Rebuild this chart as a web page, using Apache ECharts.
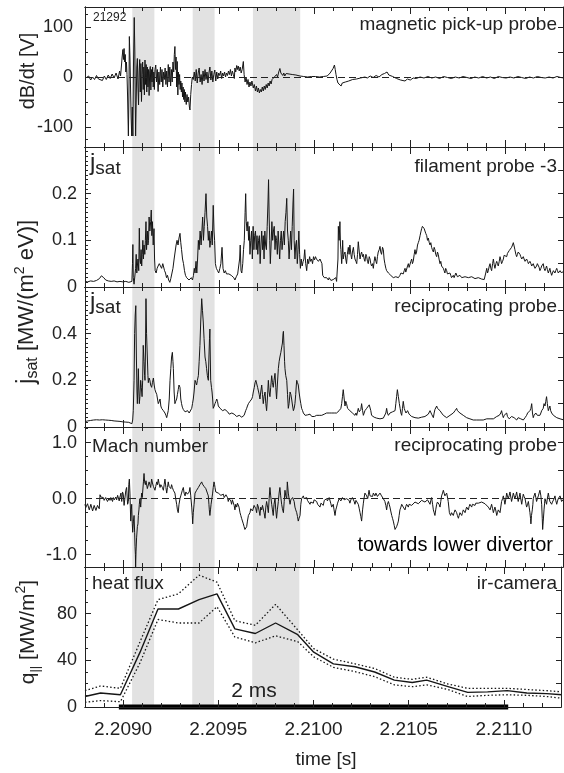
<!DOCTYPE html>
<html><head><meta charset="utf-8">
<script src="https://cdn.jsdelivr.net/npm/echarts@6/dist/echarts.min.js"></script>
<style>html,body{margin:0;padding:0;background:#fff}#c{width:564px;height:773px}</style>
</head><body><div id="c"></div>
<script>
// Sample times are offsets; READ_T0 + offset * READ_UNIT gives seconds.
const READ_T0 = 2.2089778;
const READ_UNIT = 1.0225e-6;
const X_MIN = 2.2088, X_MAX = 2.2113, X_MINOR_STEP = 0.0001;
const xMajorTicks = [2.2090, 2.2095, 2.2100, 2.2105, 2.2110];
const shadedBands = [[68, 181], [377, 489], [685, 927]];
const scaleBar = [0, 2000];

const magneticProbe = [[-174,-3],[-165,-7],[-155,2],[-145,-6],[-135,0],[-125,-5],[-115,3],[-105,-4],[-95,-1],[-85,-7],[-75,2],[-65,-5],[-55,4],[-45,-3],[-35,6],[-25,-2],[-15,8],[-5,-4],[3,12],[8,2],[12,20],[16,40],[20,55],[23,35],[26,57],[29,30],[32,45],[35,10],[38,30],[41,5],[44,-40],[48,-118],[51,-30],[53,81],[56,40],[59,-20],[62,-80],[65,-118],[68,-60],[71,-118],[74,20],[78,119],[81,50],[83,-40],[85,-118],[88,-50],[91,20],[94,37],[97,-20],[100,-56],[103,10],[106,35],[109,-30],[112,27],[115,-49],[118,5],[121,30],[124,-25],[127,20],[130,-36],[133,34],[136,-15],[139,25],[142,-30],[145,20],[148,-20],[151,15],[154,-37],[157,10],[160,21],[163,-26],[166,15],[169,-10],[172,20],[175,-20],[178,10],[181,-25],[184,15],[188,24],[192,-10],[196,15],[200,-29],[204,10],[208,-15],[212,20],[216,-10],[220,15],[224,-20],[228,10],[232,-5],[236,18],[240,-15],[244,12],[248,-20],[252,25],[256,-10],[260,20],[264,-18],[268,15],[272,-10],[276,30],[280,10],[283,45],[286,61],[289,15],[292,40],[295,-20],[298,31],[301,-36],[304,10],[307,-15],[310,5],[313,-25],[316,-8],[319,-30],[322,-12],[325,-40],[328,-20],[331,-45],[334,-25],[337,-50],[340,-30],[344,-55],[348,-35],[352,-50],[356,-40],[360,-60],[363,-66],[367,-35],[371,-15],[375,0],[380,-5],[385,10],[390,-8],[395,15],[400,-12],[405,8],[410,18],[415,-10],[420,5],[425,-15],[430,12],[435,-8],[440,15],[445,-5],[450,10],[455,-12],[460,8],[465,20],[470,-6],[475,12],[480,-10],[485,5],[490,14],[495,-8],[500,10],[505,-4],[510,8],[515,3],[520,12],[525,-3],[530,8],[535,2],[540,10],[545,0],[550,8],[555,3],[560,12],[565,5],[570,15],[575,2],[580,12],[585,5],[590,-3],[593,18],[597,10],[602,23],[606,15],[610,22],[615,12],[620,20],[625,8],[630,15],[636,31],[640,5],[645,-10],[650,0],[655,-15],[660,-5],[665,-20],[670,-10],[675,-18],[680,-8],[687,-22],[692,-15],[698,-28],[703,-18],[708,-30],[713,-22],[718,-32],[723,-25],[728,-30],[733,-20],[738,-28],[743,-18],[748,-25],[753,-15],[758,-22],[763,-12],[768,-18],[773,-8],[778,-14],[783,-5],[789,-8],[795,0],[800,-4],[806,5],[811,0],[817,10],[823,17],[828,8],[833,12],[838,3],[843,8],[848,2],[855,7],[862,3],[870,6],[878,2],[886,5],[895,1],[905,4],[915,0],[926,2],[935,-2],[945,1],[955,-2],[965,0],[975,-2],[985,1],[995,-1],[1005,1],[1015,-2],[1025,0],[1035,-1],[1045,1],[1055,0],[1065,2],[1072,4],[1080,8],[1088,12],[1095,17],[1102,24],[1106,15],[1110,5],[1115,-5],[1120,-12],[1126,-16],[1130,-14],[1136,-18],[1142,-12],[1150,-15],[1158,-10],[1166,-12],[1175,-8],[1185,-10],[1195,-5],[1205,-8],[1215,-4],[1225,-6],[1235,-2],[1245,-4],[1258,0],[1270,-2],[1285,2],[1300,-1],[1315,3],[1330,0],[1345,5],[1358,7],[1371,10],[1380,4],[1390,6],[1400,1],[1410,2],[1420,-3],[1430,-2],[1440,-6],[1450,-5],[1463,-8],[1475,-4],[1490,-6],[1505,-2],[1520,-3],[1540,0],[1560,-2],[1580,1],[1600,-2],[1620,0],[1640,-3],[1660,1],[1680,-1],[1700,-3],[1720,0],[1740,-2],[1760,1],[1780,-1],[1800,-3],[1820,0],[1840,-2],[1860,1],[1880,-2],[1900,0],[1920,-3],[1940,1],[1960,-1],[1980,-2],[2000,0],[2020,-2],[2040,1],[2060,-1],[2080,-3],[2100,0],[2120,-2],[2140,1],[2160,-1],[2180,-2],[2200,0],[2220,-2],[2240,1],[2260,-1],[2276,-2]];

const filamentProbe = [[-174,0.012],[-160,0.011],[-145,0.013],[-130,0.012],[-115,0.014],[-100,0.018],[-90,0.024],[-85,0.027],[-78,0.02],[-68,0.015],[-55,0.013],[-40,0.012],[-25,0.013],[-10,0.011],[5,0.012],[20,0.011],[35,0.012],[50,0.01],[60,0.011],[66,0.012],[69,0.05],[71,0.091],[73,0.02],[77,0.006],[81,0.003],[85,0.04],[88,0.07],[91,0.03],[94,0.045],[97,0.06],[101,0.035],[104,0.126],[107,0.06],[110,0.05],[113,0.08],[116,0.045],[119,0.07],[122,0.1],[125,0.06],[128,0.09],[132,0.07],[135,0.1],[138,0.14],[141,0.08],[145,0.12],[148,0.09],[151,0.1],[154,0.15],[158,0.12],[162,0.14],[165,0.165],[168,0.11],[171,0.14],[175,0.09],[179,0.125],[182,0.06],[185,0.035],[190,0.03],[195,0.04],[200,0.045],[206,0.05],[212,0.045],[218,0.04],[224,0.05],[228,0.052],[233,0.035],[238,0.03],[243,0.02],[248,0.025],[254,0.015],[260,0.01],[265,0.018],[270,0.02],[276,0.04],[282,0.06],[287,0.075],[292,0.09],[297,0.1],[302,0.09],[307,0.105],[312,0.115],[316,0.095],[320,0.08],[325,0.06],[330,0.05],[335,0.035],[340,0.025],[346,0.02],[352,0.018],[358,0.015],[364,0.012],[370,0.02],[376,0.015],[381,0.025],[385,0.04],[389,0.03],[394,0.055],[398,0.03],[402,0.06],[406,0.1],[410,0.08],[415,0.12],[420,0.09],[424,0.12],[428,0.15],[432,0.1],[436,0.13],[440,0.16],[445,0.2],[449,0.15],[453,0.13],[457,0.1],[461,0.12],[465,0.085],[469,0.1],[473,0.12],[477,0.09],[482,0.175],[486,0.12],[489,0.1],[493,0.05],[498,0.04],[504,0.035],[510,0.03],[516,0.04],[521,0.05],[527,0.085],[532,0.04],[538,0.03],[544,0.035],[550,0.028],[556,0.032],[562,0.028],[568,0.03],[574,0.025],[580,0.022],[587,0.02],[593,0.015],[600,0.022],[607,0.028],[613,0.03],[617,0.06],[620,0.09],[624,0.035],[628,0.03],[633,0.05],[637,0.08],[641,0.1],[645,0.16],[648,0.2],[651,0.14],[655,0.12],[659,0.14],[663,0.1],[666,0.13],[670,0.07],[674,0.1],[678,0.12],[682,0.06],[686,0.13],[690,0.08],[694,0.11],[698,0.12],[702,0.08],[706,0.11],[710,0.07],[714,0.1],[718,0.11],[722,0.05],[726,0.09],[730,0.12],[734,0.08],[738,0.11],[742,0.06],[746,0.12],[750,0.09],[754,0.08],[758,0.13],[762,0.18],[765,0.23],[768,0.15],[771,0.1],[774,0.05],[778,0.09],[782,0.14],[786,0.1],[790,0.12],[794,0.13],[798,0.08],[802,0.11],[806,0.1],[810,0.07],[814,0.12],[818,0.09],[822,0.06],[826,0.1],[830,0.12],[834,0.08],[838,0.1],[842,0.12],[846,0.09],[850,0.14],[854,0.16],[858,0.19],[862,0.12],[866,0.1],[870,0.06],[874,0.09],[878,0.12],[882,0.08],[886,0.13],[890,0.18],[893,0.21],[896,0.1],[900,0.06],[904,0.09],[908,0.1],[912,0.05],[916,0.08],[920,0.12],[924,0.07],[928,0.04],[932,0.06],[937,0.045],[942,0.055],[946,0.06],[950,0.08],[955,0.05],[960,0.035],[965,0.06],[970,0.05],[975,0.065],[980,0.055],[985,0.06],[990,0.05],[995,0.065],[1000,0.058],[1005,0.065],[1010,0.06],[1015,0.063],[1020,0.055],[1028,0.06],[1033,0.058],[1038,0.05],[1042,0.025],[1045,0.022],[1050,0.02],[1054,0.018],[1058,0.022],[1062,0.02],[1067,0.016],[1071,0.015],[1075,0.02],[1079,0.018],[1084,0.014],[1088,0.012],[1092,0.018],[1096,0.016],[1101,0.013],[1105,0.015],[1109,0.02],[1113,0.012],[1118,0.01],[1120,0.06],[1122,0.13],[1126,0.1],[1130,0.14],[1133,0.09],[1135,0.08],[1139,0.05],[1142,0.07],[1144,0.1],[1147,0.06],[1151,0.07],[1156,0.075],[1160,0.06],[1164,0.05],[1168,0.07],[1173,0.085],[1177,0.07],[1181,0.09],[1186,0.07],[1190,0.06],[1194,0.075],[1199,0.085],[1203,0.07],[1207,0.06],[1212,0.055],[1216,0.05],[1220,0.07],[1224,0.097],[1229,0.075],[1233,0.06],[1237,0.07],[1241,0.075],[1246,0.065],[1250,0.07],[1254,0.06],[1258,0.055],[1263,0.07],[1267,0.065],[1271,0.055],[1275,0.05],[1280,0.065],[1284,0.06],[1288,0.05],[1292,0.045],[1297,0.05],[1301,0.04],[1305,0.055],[1309,0.065],[1314,0.055],[1318,0.05],[1322,0.065],[1326,0.075],[1331,0.08],[1335,0.087],[1339,0.075],[1343,0.07],[1348,0.085],[1352,0.08],[1356,0.06],[1360,0.05],[1365,0.04],[1369,0.035],[1373,0.032],[1378,0.03],[1382,0.03],[1386,0.028],[1390,0.025],[1395,0.022],[1399,0.025],[1403,0.02],[1408,0.019],[1412,0.018],[1416,0.022],[1420,0.022],[1425,0.019],[1429,0.02],[1433,0.024],[1437,0.025],[1442,0.03],[1446,0.03],[1450,0.026],[1454,0.028],[1459,0.035],[1463,0.04],[1467,0.032],[1471,0.035],[1476,0.045],[1480,0.05],[1484,0.042],[1488,0.045],[1493,0.055],[1497,0.06],[1501,0.05],[1505,0.055],[1510,0.07],[1514,0.08],[1518,0.07],[1522,0.075],[1527,0.09],[1531,0.095],[1535,0.1],[1540,0.11],[1544,0.118],[1548,0.125],[1552,0.13],[1557,0.134],[1561,0.125],[1565,0.12],[1569,0.115],[1574,0.11],[1578,0.1],[1582,0.105],[1587,0.095],[1591,0.09],[1595,0.095],[1599,0.085],[1603,0.08],[1608,0.075],[1612,0.085],[1616,0.08],[1620,0.07],[1625,0.065],[1629,0.075],[1633,0.07],[1637,0.06],[1642,0.05],[1646,0.055],[1650,0.045],[1654,0.042],[1659,0.04],[1663,0.035],[1667,0.03],[1671,0.04],[1676,0.035],[1680,0.028],[1684,0.025],[1688,0.032],[1693,0.03],[1697,0.025],[1701,0.02],[1705,0.023],[1710,0.025],[1714,0.02],[1719,0.022],[1723,0.03],[1727,0.03],[1731,0.022],[1736,0.02],[1740,0.024],[1744,0.025],[1748,0.021],[1753,0.02],[1761,0.023],[1770,0.022],[1778,0.02],[1787,0.02],[1795,0.023],[1804,0.022],[1812,0.019],[1821,0.018],[1829,0.021],[1838,0.02],[1846,0.018],[1855,0.017],[1863,0.019],[1868,0.016],[1872,0.015],[1876,0.03],[1881,0.04],[1885,0.03],[1889,0.035],[1894,0.045],[1898,0.05],[1902,0.04],[1906,0.035],[1911,0.05],[1915,0.06],[1919,0.048],[1923,0.04],[1928,0.05],[1932,0.055],[1936,0.05],[1940,0.045],[1945,0.055],[1949,0.065],[1953,0.058],[1957,0.05],[1962,0.055],[1966,0.06],[1970,0.068],[1974,0.07],[1979,0.065],[1983,0.065],[1987,0.072],[1991,0.075],[1996,0.078],[2000,0.08],[2004,0.082],[2008,0.085],[2013,0.09],[2017,0.095],[2021,0.088],[2025,0.08],[2030,0.07],[2034,0.065],[2038,0.07],[2042,0.075],[2047,0.072],[2051,0.07],[2055,0.065],[2060,0.06],[2064,0.062],[2068,0.065],[2072,0.06],[2077,0.055],[2081,0.058],[2085,0.06],[2090,0.055],[2094,0.05],[2098,0.052],[2102,0.055],[2107,0.05],[2111,0.045],[2115,0.048],[2119,0.05],[2123,0.045],[2128,0.04],[2132,0.042],[2136,0.045],[2140,0.05],[2145,0.05],[2149,0.042],[2153,0.035],[2158,0.04],[2162,0.045],[2166,0.048],[2170,0.05],[2174,0.04],[2179,0.035],[2183,0.04],[2187,0.045],[2191,0.038],[2196,0.03],[2200,0.035],[2204,0.04],[2208,0.032],[2213,0.025],[2217,0.03],[2222,0.035],[2226,0.032],[2230,0.03],[2234,0.035],[2239,0.04],[2243,0.035],[2247,0.03],[2251,0.032],[2256,0.035],[2260,0.032],[2264,0.03],[2270,0.033],[2276,0.035]];

const reciprocatingJsat = [[-174,0.023],[-160,0.026],[-145,0.028],[-130,0.03],[-115,0.031],[-100,0.03],[-85,0.031],[-70,0.03],[-55,0.029],[-40,0.028],[-25,0.026],[-10,0.025],[5,0.024],[20,0.022],[35,0.021],[50,0.02],[60,0.018],[66,0.014],[70,0.03],[73,0.07],[77,0.2],[80,0.4],[83,0.48],[86,0.52],[89,0.3],[92,0.15],[94,0.1],[97,0.18],[99,0.25],[102,0.15],[104,0.1],[107,0.13],[111,0.2],[114,0.17],[118,0.13],[121,0.2],[124,0.35],[128,0.28],[131,0.22],[133,0.2],[135,0.3],[138,0.55],[141,0.4],[145,0.3],[148,0.22],[150,0.19],[154,0.21],[158,0.2],[162,0.18],[167,0.17],[171,0.19],[176,0.21],[180,0.18],[184,0.16],[188,0.15],[193,0.14],[197,0.12],[201,0.1],[206,0.11],[210,0.12],[214,0.09],[218,0.08],[223,0.075],[227,0.07],[231,0.065],[235,0.06],[240,0.05],[244,0.04],[248,0.055],[252,0.07],[257,0.12],[261,0.2],[265,0.25],[269,0.3],[273,0.32],[276,0.28],[278,0.25],[282,0.15],[286,0.1],[290,0.11],[295,0.12],[299,0.14],[303,0.16],[307,0.18],[312,0.17],[316,0.12],[320,0.1],[324,0.085],[329,0.075],[333,0.07],[338,0.065],[342,0.06],[346,0.06],[351,0.07],[355,0.07],[359,0.06],[363,0.055],[368,0.065],[372,0.08],[376,0.1],[380,0.12],[384,0.15],[389,0.2],[393,0.19],[397,0.18],[401,0.2],[406,0.22],[410,0.28],[414,0.35],[418,0.45],[423,0.55],[427,0.5],[431,0.45],[435,0.38],[440,0.3],[444,0.28],[448,0.25],[452,0.22],[457,0.2],[460,0.3],[463,0.38],[465,0.42],[467,0.3],[469,0.2],[473,0.17],[476,0.15],[479,0.12],[482,0.08],[487,0.09],[491,0.1],[496,0.11],[500,0.12],[504,0.11],[508,0.09],[513,0.085],[517,0.08],[521,0.075],[525,0.075],[530,0.07],[534,0.07],[538,0.072],[542,0.075],[547,0.07],[551,0.075],[556,0.065],[560,0.06],[564,0.055],[568,0.05],[573,0.055],[577,0.06],[581,0.055],[585,0.06],[589,0.055],[594,0.05],[598,0.05],[602,0.045],[606,0.05],[611,0.048],[615,0.05],[619,0.05],[623,0.045],[628,0.042],[632,0.045],[636,0.04],[640,0.05],[644,0.06],[648,0.07],[653,0.08],[657,0.09],[662,0.1],[666,0.105],[670,0.11],[674,0.115],[679,0.12],[683,0.13],[687,0.15],[692,0.17],[696,0.19],[700,0.2],[704,0.2],[709,0.17],[713,0.17],[717,0.14],[721,0.12],[725,0.15],[730,0.18],[734,0.14],[738,0.1],[742,0.13],[747,0.15],[751,0.1],[755,0.07],[759,0.12],[764,0.2],[768,0.15],[772,0.13],[776,0.17],[781,0.22],[785,0.19],[789,0.17],[793,0.2],[798,0.23],[802,0.17],[806,0.12],[810,0.18],[815,0.25],[819,0.28],[823,0.3],[828,0.32],[832,0.32],[836,0.36],[839,0.4],[841,0.41],[844,0.35],[847,0.28],[849,0.25],[853,0.22],[858,0.2],[862,0.14],[866,0.08],[870,0.1],[875,0.15],[879,0.14],[883,0.12],[888,0.09],[892,0.07],[896,0.08],[900,0.1],[904,0.14],[907,0.18],[909,0.2],[913,0.19],[917,0.18],[921,0.15],[926,0.12],[930,0.1],[934,0.08],[939,0.07],[943,0.06],[947,0.055],[952,0.05],[956,0.048],[960,0.05],[965,0.052],[969,0.048],[973,0.05],[977,0.055],[982,0.05],[986,0.045],[990,0.048],[994,0.05],[999,0.045],[1003,0.048],[1007,0.052],[1011,0.05],[1016,0.045],[1020,0.048],[1024,0.05],[1028,0.05],[1033,0.048],[1037,0.05],[1041,0.045],[1045,0.045],[1050,0.055],[1054,0.05],[1058,0.058],[1062,0.06],[1067,0.055],[1071,0.062],[1075,0.06],[1079,0.065],[1084,0.058],[1088,0.06],[1092,0.052],[1096,0.055],[1101,0.06],[1105,0.058],[1109,0.065],[1113,0.06],[1118,0.063],[1122,0.065],[1126,0.07],[1130,0.07],[1135,0.08],[1139,0.1],[1143,0.13],[1147,0.16],[1152,0.12],[1156,0.09],[1160,0.11],[1164,0.1],[1169,0.08],[1173,0.075],[1177,0.085],[1181,0.07],[1186,0.065],[1190,0.07],[1194,0.06],[1199,0.06],[1203,0.055],[1207,0.05],[1212,0.06],[1216,0.05],[1220,0.065],[1224,0.08],[1229,0.065],[1233,0.06],[1237,0.075],[1241,0.1],[1246,0.07],[1250,0.05],[1254,0.06],[1258,0.07],[1263,0.065],[1267,0.08],[1271,0.075],[1275,0.085],[1280,0.095],[1284,0.1],[1288,0.07],[1292,0.05],[1297,0.048],[1301,0.045],[1305,0.042],[1309,0.04],[1318,0.038],[1326,0.036],[1335,0.035],[1343,0.04],[1352,0.038],[1360,0.04],[1365,0.06],[1369,0.08],[1373,0.06],[1378,0.05],[1382,0.055],[1386,0.06],[1390,0.055],[1395,0.06],[1399,0.065],[1403,0.068],[1408,0.07],[1412,0.07],[1416,0.1],[1420,0.13],[1424,0.16],[1429,0.13],[1434,0.1],[1438,0.08],[1442,0.06],[1446,0.05],[1450,0.08],[1454,0.11],[1459,0.08],[1463,0.07],[1468,0.06],[1472,0.065],[1476,0.07],[1480,0.07],[1484,0.055],[1488,0.05],[1493,0.048],[1497,0.045],[1505,0.042],[1514,0.04],[1522,0.04],[1531,0.038],[1540,0.035],[1548,0.042],[1557,0.05],[1565,0.045],[1574,0.04],[1582,0.055],[1591,0.07],[1599,0.055],[1608,0.04],[1612,0.06],[1616,0.075],[1620,0.08],[1625,0.09],[1629,0.08],[1633,0.075],[1637,0.08],[1642,0.07],[1650,0.06],[1659,0.05],[1667,0.045],[1676,0.04],[1684,0.045],[1693,0.05],[1701,0.055],[1710,0.06],[1719,0.07],[1723,0.075],[1727,0.08],[1731,0.07],[1736,0.065],[1744,0.06],[1753,0.055],[1761,0.05],[1770,0.045],[1778,0.04],[1787,0.038],[1795,0.035],[1804,0.033],[1812,0.03],[1821,0.032],[1829,0.03],[1838,0.028],[1846,0.03],[1855,0.032],[1863,0.03],[1872,0.034],[1881,0.035],[1889,0.038],[1898,0.035],[1906,0.04],[1915,0.035],[1923,0.04],[1932,0.045],[1940,0.04],[1945,0.05],[1949,0.05],[1953,0.06],[1957,0.07],[1962,0.05],[1966,0.04],[1970,0.05],[1974,0.055],[1979,0.05],[1983,0.06],[1987,0.045],[1991,0.04],[1996,0.035],[2000,0.03],[2004,0.04],[2008,0.045],[2013,0.05],[2017,0.05],[2021,0.04],[2025,0.035],[2030,0.032],[2034,0.03],[2038,0.035],[2042,0.04],[2047,0.04],[2051,0.04],[2055,0.035],[2060,0.032],[2064,0.035],[2068,0.03],[2072,0.035],[2077,0.04],[2081,0.045],[2085,0.05],[2090,0.06],[2094,0.055],[2098,0.065],[2102,0.07],[2107,0.08],[2111,0.1],[2115,0.06],[2119,0.04],[2123,0.05],[2128,0.055],[2132,0.06],[2136,0.06],[2140,0.05],[2145,0.055],[2149,0.05],[2153,0.05],[2158,0.06],[2162,0.07],[2166,0.065],[2170,0.08],[2174,0.1],[2179,0.09],[2183,0.11],[2187,0.13],[2191,0.1],[2196,0.07],[2200,0.08],[2204,0.09],[2208,0.07],[2213,0.06],[2217,0.055],[2222,0.05],[2226,0.045],[2230,0.042],[2239,0.04],[2247,0.038],[2256,0.035],[2264,0.032],[2276,0.03]];

const machNumber = [[-174,-0.1],[-170,-0.16],[-165,-0.15],[-161,-0.09],[-157,-0.12],[-152,-0.2],[-148,-0.18],[-144,-0.1],[-140,-0.13],[-135,-0.22],[-131,-0.2],[-127,-0.12],[-123,-0.14],[-118,-0.21],[-114,-0.2],[-110,-0.12],[-106,-0.15],[-101,-0.18],[-97,0.07],[-93,0.03],[-89,0.04],[-85,0.0],[-80,0.02],[-76,-0.03],[-72,-0.02],[-68,0.02],[-63,0.0],[-59,-0.05],[-55,-0.04],[-50,0.01],[-46,-0.03],[-42,0.02],[-38,0.01],[-33,-0.05],[-29,0.02],[-24,-0.02],[-20,-0.04],[-16,0.03],[-12,-0.02],[-7,0.06],[-3,0.05],[1,-0.04],[5,0.03],[10,0.1],[14,-0.05],[18,0.12],[22,0.08],[26,-0.12],[31,-0.1],[35,0.15],[39,0.2],[44,-0.1],[48,-0.05],[50,0.25],[53,0.35],[56,0.1],[60,-0.4],[63,-0.2],[65,-0.1],[68,-0.45],[70,-0.6],[74,-0.4],[77,-0.3],[80,-0.6],[82,-0.85],[84,-1.0],[85,-1.22],[87,-0.95],[90,-0.7],[94,-0.5],[97,-0.45],[99,-0.3],[102,-0.2],[104,-0.1],[107,0.0],[111,-0.15],[114,0.02],[116,0.1],[119,0.02],[121,0.05],[125,0.3],[128,0.45],[131,0.3],[135,0.25],[138,0.32],[141,0.3],[145,0.18],[150,0.2],[154,0.3],[158,0.25],[162,0.2],[167,0.35],[171,0.28],[176,0.22],[180,0.25],[184,0.15],[188,0.22],[193,0.3],[197,0.25],[201,0.35],[205,0.27],[210,0.2],[214,0.25],[218,0.28],[222,0.2],[227,0.15],[231,0.25],[235,0.35],[240,0.2],[244,0.1],[248,0.2],[252,0.3],[256,0.22],[261,0.2],[265,0.18],[269,0.25],[273,0.2],[278,0.15],[282,0.12],[286,0.1],[290,0.0],[295,-0.1],[299,-0.2],[303,-0.25],[307,-0.1],[312,0.0],[316,0.05],[320,0.1],[324,0.15],[329,0.2],[333,0.1],[338,0.05],[342,0.12],[346,0.15],[350,0.08],[355,0.05],[359,0.12],[363,0.2],[367,0.05],[372,-0.15],[375,-0.3],[377,-0.45],[380,-0.25],[384,-0.1],[389,0.1],[393,0.12],[397,0.15],[401,0.13],[406,0.2],[410,0.18],[414,0.25],[418,0.22],[423,0.3],[427,0.26],[431,0.25],[435,0.22],[440,0.2],[444,0.18],[448,0.15],[452,0.1],[457,0.05],[460,-0.1],[462,-0.2],[465,-0.3],[468,-0.2],[471,-0.1],[475,0.0],[479,0.1],[482,0.2],[486,0.3],[489,0.25],[491,0.2],[495,0.12],[500,0.15],[504,0.1],[508,0.1],[512,0.13],[517,0.12],[521,0.06],[525,0.05],[530,0.08],[534,0.08],[538,0.02],[542,0.03],[547,0.07],[551,0.1],[555,0.02],[559,-0.05],[563,0.0],[568,0.02],[572,-0.04],[576,-0.1],[580,-0.02],[585,-0.05],[589,-0.12],[593,-0.2],[597,-0.1],[602,-0.15],[606,-0.08],[610,-0.05],[614,-0.15],[619,-0.25],[623,-0.3],[627,-0.35],[631,-0.38],[636,-0.45],[640,-0.5],[644,-0.55],[648,-0.52],[653,-0.5],[657,-0.4],[662,-0.3],[666,-0.28],[670,-0.25],[674,-0.18],[679,-0.15],[683,-0.22],[687,-0.2],[691,-0.12],[696,-0.1],[700,-0.18],[704,-0.25],[708,-0.1],[713,-0.15],[717,-0.22],[721,-0.3],[725,-0.15],[730,-0.2],[734,-0.12],[738,-0.1],[742,-0.25],[747,-0.35],[751,-0.15],[755,-0.05],[760,-0.15],[764,-0.25],[768,0.0],[772,0.2],[776,0.05],[781,-0.1],[785,-0.2],[789,-0.3],[793,-0.1],[798,0.0],[802,-0.2],[806,-0.35],[810,-0.2],[815,-0.05],[819,0.1],[823,0.2],[827,0.05],[832,-0.1],[836,-0.18],[841,-0.25],[845,-0.05],[849,0.15],[853,0.05],[858,0.0],[861,0.3],[866,0.1],[870,0.0],[875,-0.1],[879,-0.02],[883,-0.05],[888,0.02],[892,0.05],[896,-0.05],[900,-0.15],[904,-0.2],[909,-0.25],[913,-0.32],[917,-0.4],[921,-0.35],[926,-0.3],[930,-0.1],[934,0.0],[939,0.03],[943,0.05],[947,0.0],[951,-0.02],[956,0.03],[960,0.02],[964,-0.03],[968,-0.05],[973,-0.02],[977,-0.1],[981,-0.06],[985,-0.03],[990,-0.07],[994,-0.08],[998,-0.02],[1003,0.0],[1007,-0.04],[1011,-0.05],[1016,-0.1],[1020,-0.12],[1024,-0.1],[1028,-0.15],[1033,-0.08],[1037,-0.05],[1041,-0.1],[1045,-0.12],[1050,-0.03],[1054,0.0],[1058,-0.02],[1062,0.0],[1066,-0.04],[1071,-0.05],[1075,0.02],[1079,0.0],[1083,-0.08],[1088,-0.15],[1092,-0.12],[1096,-0.1],[1100,-0.2],[1105,-0.3],[1109,-0.2],[1113,-0.15],[1118,-0.08],[1122,-0.05],[1126,0.0],[1130,0.0],[1135,-0.04],[1139,-0.02],[1143,0.02],[1147,0.03],[1152,-0.02],[1156,-0.05],[1160,0.01],[1164,0.0],[1169,0.02],[1173,0.03],[1177,-0.03],[1181,-0.08],[1186,-0.02],[1190,0.0],[1194,0.02],[1199,0.03],[1203,-0.05],[1207,-0.1],[1212,-0.03],[1216,0.0],[1220,-0.05],[1224,-0.1],[1229,-0.18],[1233,-0.25],[1237,-0.32],[1241,-0.4],[1246,-0.2],[1250,-0.08],[1253,0.0],[1258,0.1],[1262,0.07],[1267,0.05],[1272,0.0],[1276,0.08],[1279,0.15],[1284,0.05],[1288,0.07],[1292,0.08],[1297,0.04],[1301,0.1],[1305,0.07],[1309,0.05],[1314,0.1],[1318,0.08],[1322,0.04],[1326,0.02],[1331,0.06],[1335,0.1],[1339,0.07],[1343,0.05],[1348,0.02],[1352,0.0],[1356,-0.02],[1360,-0.05],[1365,-0.12],[1369,-0.2],[1373,-0.1],[1378,-0.05],[1382,-0.1],[1386,-0.15],[1390,-0.22],[1395,-0.3],[1399,-0.35],[1403,-0.4],[1408,-0.48],[1412,-0.55],[1416,-0.52],[1420,-0.5],[1425,-0.45],[1429,-0.4],[1433,-0.3],[1437,-0.2],[1442,-0.15],[1446,-0.1],[1450,-0.12],[1454,-0.15],[1459,-0.18],[1463,-0.2],[1467,-0.14],[1471,-0.1],[1476,-0.13],[1480,-0.15],[1484,-0.1],[1488,-0.08],[1497,-0.12],[1505,-0.1],[1514,-0.06],[1522,-0.05],[1531,-0.09],[1540,-0.07],[1548,-0.03],[1557,-0.02],[1565,-0.06],[1574,-0.05],[1578,-0.02],[1582,0.0],[1587,-0.05],[1591,-0.1],[1595,-0.03],[1599,0.02],[1604,-0.1],[1608,-0.2],[1612,-0.25],[1616,-0.3],[1620,-0.2],[1625,-0.1],[1629,-0.06],[1633,-0.05],[1637,-0.1],[1642,-0.15],[1646,-0.05],[1650,0.05],[1655,0.1],[1659,0.15],[1663,0.1],[1667,0.05],[1672,0.08],[1676,0.1],[1680,0.03],[1684,-0.05],[1690,-0.25],[1696,-0.3],[1701,-0.25],[1706,-0.28],[1710,-0.3],[1714,-0.25],[1719,-0.2],[1723,-0.22],[1727,-0.25],[1731,-0.3],[1736,-0.35],[1740,-0.3],[1744,-0.25],[1748,-0.28],[1753,-0.3],[1757,-0.25],[1761,-0.2],[1766,-0.22],[1770,-0.25],[1774,-0.2],[1778,-0.15],[1783,-0.18],[1787,-0.2],[1791,-0.14],[1795,-0.1],[1800,-0.13],[1804,-0.15],[1808,-0.1],[1812,-0.08],[1817,-0.1],[1821,-0.12],[1825,-0.08],[1829,-0.05],[1838,-0.08],[1846,-0.1],[1855,-0.06],[1863,-0.05],[1872,-0.09],[1881,-0.12],[1889,-0.15],[1898,-0.2],[1902,-0.15],[1906,-0.1],[1911,-0.18],[1915,-0.25],[1919,-0.2],[1923,-0.15],[1928,-0.22],[1932,-0.3],[1936,-0.25],[1940,-0.2],[1945,-0.22],[1949,-0.25],[1953,-0.15],[1957,-0.05],[1962,0.0],[1966,0.05],[1970,-0.02],[1974,-0.1],[1979,0.0],[1983,0.1],[1987,0.05],[1991,0.0],[1996,0.06],[2000,0.12],[2004,0.03],[2008,-0.05],[2013,0.03],[2017,0.1],[2021,0.05],[2025,0.0],[2030,0.06],[2034,0.12],[2038,0.03],[2042,-0.05],[2047,0.03],[2051,0.1],[2055,0.0],[2060,-0.1],[2064,0.0],[2068,0.08],[2072,0.04],[2077,0.0],[2081,-0.08],[2085,-0.15],[2090,-0.1],[2094,-0.05],[2098,-0.15],[2102,-0.25],[2105,-0.35],[2107,-0.45],[2110,-0.3],[2114,-0.2],[2117,-0.1],[2119,0.0],[2123,0.05],[2128,0.1],[2132,0.02],[2136,-0.05],[2140,0.0],[2145,0.05],[2149,0.1],[2153,0.15],[2158,0.05],[2162,-0.1],[2165,-0.35],[2167,-0.55],[2170,-0.4],[2174,-0.2],[2177,-0.08],[2179,0.0],[2183,-0.05],[2187,-0.1],[2191,0.0],[2196,0.1],[2200,0.02],[2204,-0.05],[2208,-0.08],[2213,-0.1],[2217,-0.06],[2222,-0.05],[2226,0.0],[2230,0.05],[2234,-0.03],[2239,-0.1],[2243,-0.04],[2247,0.0],[2251,0.02],[2256,0.05],[2260,0.0],[2264,-0.05],[2268,-0.02],[2276,0.0]];

const heatFluxTimes = [-174, -94, 8, 109, 201, 306, 412, 504, 596, 701, 805, 919, 1001, 1102, 1213, 1314, 1415, 1507, 1581, 1691, 1792, 1894, 1995, 2096, 2197, 2276];
const heatFlux      = [9, 12, 10.5, 47, 84, 84, 92, 97, 67, 63, 72, 62, 47, 37, 34.5, 30, 23, 21, 23, 17.5, 12.5, 13, 14, 12, 11.5, 10.5];
const heatFluxUpper = [14, 18, 16, 56, 92, 97, 113, 107, 74, 70, 88, 66, 50, 41, 37, 33, 25.5, 23.7, 25.5, 19.7, 16, 16, 16, 15, 14, 13];
const heatFluxLower = [4, 5.5, 4.5, 38, 75, 72, 72, 86, 60, 55, 61, 56, 43, 34, 30.3, 26, 19, 17.4, 19, 15, 9, 10, 10.5, 10, 9, 7.5];

// y-axis tick values per panel
const p1Labels = [-100, 0, 100], p1Minor = [-125, -75, -50, -25, 25, 50, 75, 125], p1Right = [-100, -50, 0, 50, 100];
const p2Labels = [0, 0.1, 0.2], p2Minor = [0.01,0.02,0.03,0.04,0.05,0.06,0.07,0.08,0.09,0.11,0.12,0.13,0.14,0.15,0.16,0.17,0.18,0.19,0.21,0.22,0.23,0.24,0.25,0.26,0.27,0.28,0.29], p2Right = [0.05, 0.1, 0.15, 0.2, 0.25];
const p3Labels = [0, 0.2, 0.4], p3Minor = [0.02,0.04,0.06,0.08,0.1,0.12,0.14,0.16,0.18,0.22,0.24,0.26,0.28,0.3,0.32,0.34,0.36,0.38,0.42,0.44,0.46,0.48,0.5,0.52,0.54,0.56,0.58], p3Right = [0.1, 0.2, 0.3, 0.4, 0.5];
const p4Labels = [-1, 0, 1], p4Minor = [-0.75, -0.5, -0.25, 0.25, 0.5, 0.75, 1.25], p4Right = [-1, -0.5, 0, 0.5, 1];
const p5Labels = [0, 40, 80], p5Minor = [10, 20, 30, 50, 60, 70, 90, 100, 110], p5Right = [20, 40, 60, 80, 100];

// ---------------------------------------------------------------
const FONT = 'Liberation Sans';
const AX = '#222';
const LINE = '#161616';
const toT = u => READ_T0 + u * READ_UNIT;
const pairs = arr => arr.map(d => [toT(d[0]), d[1]]);
const zip = (ts, vs) => ts.map((t, i) => [toT(t), vs[i]]);
const fmtX = v => { const k = v / 0.0005; return Math.abs(k - Math.round(k)) < 1e-3 ? v.toFixed(4) : ''; };

const panels = [
  {min: -140, max: 140, labels: p1Labels, minor: p1Minor, right: p1Right, fmt: v => String(v), margin: 12},
  {min: 0, max: 0.3, labels: p2Labels, minor: p2Minor, right: p2Right, fmt: v => String(v), margin: 8},
  {min: 0, max: 0.6, labels: p3Labels, minor: p3Minor, right: p3Right, fmt: v => String(v), margin: 8},
  {min: -1.22, max: 1.28, labels: p4Labels, minor: p4Minor, right: p4Right, fmt: v => v.toFixed(1), margin: 8},
  {min: 0, max: 120, labels: p5Labels, minor: p5Minor, right: p5Right, fmt: v => String(v), margin: 8}
];
const PANEL_TOP = 7, PANEL_H = 140;

const grids = [], xAxes = [], yAxes = [];
panels.forEach((p, gi) => {
  grids.push({left: 85, right: 1, top: PANEL_TOP + gi * PANEL_H, height: PANEL_H, containLabel: false});
  const last = gi === panels.length - 1;
  const xb = {type: 'value', gridIndex: gi, min: X_MIN, max: X_MAX, z: 10, splitLine: {show: false},
    axisLine: {show: true, onZero: false, lineStyle: {color: AX, width: 1}}};
  xAxes.push(Object.assign({}, xb, {position: 'bottom', interval: X_MINOR_STEP,
    axisTick: {show: true, inside: true, length: 4, lineStyle: {color: AX}},
    axisLabel: last ? {show: true, formatter: fmtX, fontSize: 19, color: '#222', fontFamily: FONT, margin: 13} : {show: false}}));
  xAxes.push(Object.assign({}, xb, {position: 'bottom', axisTick: {show: true, inside: true, length: 7, customValues: xMajorTicks, lineStyle: {color: AX}}, axisLabel: {show: false}}));
  xAxes.push(Object.assign({}, xb, {position: 'top', interval: X_MINOR_STEP, axisTick: {show: true, inside: true, length: 4, lineStyle: {color: AX}}, axisLabel: {show: false}}));
  xAxes.push(Object.assign({}, xb, {position: 'top', axisTick: {show: true, inside: true, length: 7, customValues: xMajorTicks, lineStyle: {color: AX}}, axisLabel: {show: false}}));
  const yb = {type: 'value', gridIndex: gi, min: p.min, max: p.max, z: 10, splitLine: {show: false},
    axisLine: {show: true, onZero: false, lineStyle: {color: AX, width: 1}}};
  yAxes.push(Object.assign({}, yb, {position: 'left', axisTick: {show: true, inside: true, length: 6, customValues: p.labels, lineStyle: {color: AX}},
    axisLabel: {show: true, customValues: p.labels, formatter: p.fmt, fontSize: 18, color: '#222', fontFamily: FONT, margin: p.margin, showMinLabel: true, showMaxLabel: true}}));
  yAxes.push(Object.assign({}, yb, {position: 'left', axisTick: {show: true, inside: true, length: 3, customValues: p.minor, lineStyle: {color: AX}}, axisLabel: {show: false}}));
  yAxes.push(Object.assign({}, yb, {position: 'right', axisTick: {show: true, inside: true, length: 5, customValues: p.right, lineStyle: {color: AX}}, axisLabel: {show: false}}));
});

const bandArea = {silent: true, itemStyle: {color: '#e2e2e2'},
  data: shadedBands.map(b => [{xAxis: toT(b[0])}, {xAxis: toT(b[1])}])};
const zeroLine = {silent: true, symbol: ['none', 'none'], label: {show: false},
  lineStyle: {color: '#222', width: 1, type: [7, 4]}, data: [{yAxis: 0}]};

function lineSeries(gi, data, extra) {
  return Object.assign({type: 'line', xAxisIndex: gi * 4, yAxisIndex: gi * 3, data: data,
    showSymbol: false, symbol: 'none', animation: false, z: 3,
    lineStyle: {color: LINE, width: 1}}, extra || {});
}

const series = [
  lineSeries(0, pairs(magneticProbe), {markArea: bandArea, markLine: zeroLine}),
  lineSeries(1, pairs(filamentProbe), {markArea: bandArea}),
  lineSeries(2, pairs(reciprocatingJsat), {markArea: bandArea}),
  lineSeries(3, pairs(machNumber), {markArea: bandArea, markLine: zeroLine}),
  lineSeries(4, zip(heatFluxTimes, heatFlux), {markArea: bandArea, lineStyle: {color: LINE, width: 1.4}}),
  lineSeries(4, zip(heatFluxTimes, heatFluxUpper), {lineStyle: {color: LINE, width: 1.3, type: [1.5, 2.2]}}),
  lineSeries(4, zip(heatFluxTimes, heatFluxLower), {lineStyle: {color: LINE, width: 1.3, type: [1.5, 2.2]}}),
  lineSeries(4, scaleBar.map(u => [toT(u), 0]), {clip: false, z: 6, lineStyle: {color: '#000', width: 5, cap: 'butt'}})
];

function txt(s, x, y, size, align, color) {
  return {type: 'text', x: x, y: y, z: 100, silent: true,
    style: {text: s, fill: color || '#222', font: size + 'px "' + FONT + '"', fontSize: size, fontFamily: FONT,
      align: align, textAlign: align, verticalAlign: 'middle', textVerticalAlign: 'middle'}};
}
function rich(s, x, y, rot, richDef, align) {
  return {type: 'text', x: x, y: y, rotation: rot, z: 100, silent: true,
    style: {text: s, rich: richDef, fill: '#222', fontFamily: FONT, align: align, textAlign: align, verticalAlign: 'middle', textVerticalAlign: 'middle'}};
}
const tok = (fs, lh, va) => ({fontSize: fs, fontFamily: FONT, fill: '#222', color: '#222', lineHeight: lh, verticalAlign: va});

const panelJsatRich = {j: tok(24, 30, 'middle'), s: tok(19, 19, 'bottom')};
const nameRich = {n: tok(22, 28, 'middle'), j: tok(25, 28, 'middle'), s: tok(16, 14, 'bottom'), p: tok(14, 14, 'top')};
const qRich = {n: tok(21, 28, 'middle'), s: tok(13, 13, 'bottom'), p: tok(14, 14, 'top')};

const graphics = [
  txt('21292', 93, 18, 12, 'left'),
  txt('magnetic pick-up probe', 557, 25, 19, 'right'),
  txt('filament probe -3', 557, 167, 19, 'right'),
  txt('reciprocating probe', 557, 307, 19, 'right'),
  txt('Mach number', 92, 447, 19, 'left'),
  txt('reciprocating probe', 557, 446, 19, 'right'),
  txt('towards lower divertor', 553, 545, 20, 'right', '#000'),
  txt('heat flux', 92, 584, 19, 'left'),
  txt('ir-camera', 557, 584, 19, 'right'),
  txt('2 ms', 254, 691, 21, 'center'),
  txt('time [s]', 326, 760, 19, 'center'),
  rich('{j|j}{s|sat}', 90, 163, 0, panelJsatRich, 'left'),
  rich('{j|j}{s|sat}', 90, 302, 0, panelJsatRich, 'left'),
  Object.assign(txt('dB/dt [V]', 28, 71, 20, 'center'), {rotation: Math.PI / 2}),
  rich('{j|j}{s|sat}{n| [MW/(m}{p|2}{n| eV)]}', 27, 302, Math.PI / 2, nameRich, 'center'),
  rich('{n|q}{s|||}{n| [MW/m}{p|2}{n|]}', 28, 632, Math.PI / 2, qRich, 'center')
];

const chart = echarts.init(document.getElementById('c'), null, {renderer: 'canvas'});
chart.setOption({
  animation: false,
  backgroundColor: '#ffffff',
  textStyle: {fontFamily: FONT},
  grid: grids, xAxis: xAxes, yAxis: yAxes, series: series,
  graphic: graphics
});
</script></body></html>
